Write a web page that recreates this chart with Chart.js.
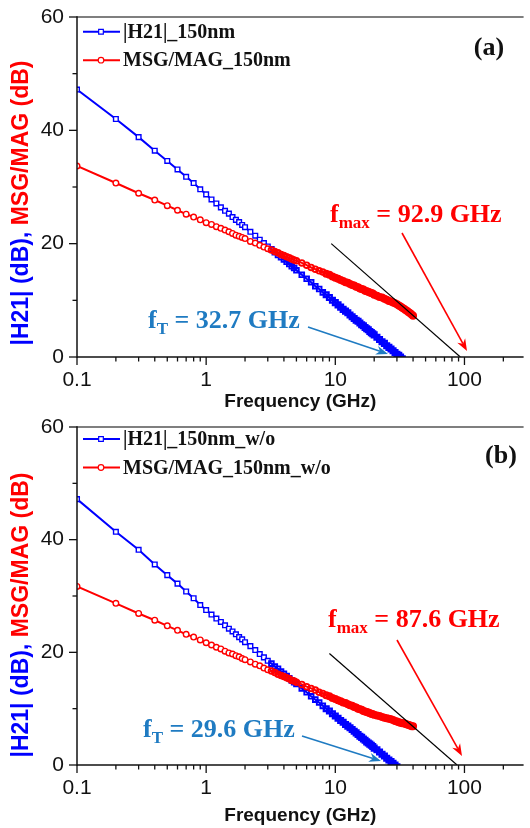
<!DOCTYPE html>
<html>
<head>
<meta charset="utf-8">
<script src="https://cdn.jsdelivr.net/npm/chart.js@4.4.1/dist/chart.umd.min.js"></script>
<style>
    body { margin: 0; background: #fff; }
    canvas { display: block; }
</style>
</head>
<body>
<canvas id="chart-a" width="530" height="414"></canvas>
<canvas id="chart-b" width="530" height="414"></canvas>
<script>
// measured sweep points (GHz)
const freqGHz = [0.1, 0.2, 0.3, 0.4, 0.5, 0.6, 0.7, 0.8, 0.9, 1.0,
    1.1, 1.2, 1.3, 1.4, 1.5, 1.6, 1.7, 1.8, 1.9, 2.0,
    2.2, 2.4, 2.6, 2.8, 3.0, 3.2, 3.4, 3.6, 3.8, 4.0, 4.2, 4.4, 4.6, 4.8, 5.0,
    5.5, 6.0, 6.5, 7.0, 7.5, 8.0, 8.5, 9.0, 9.5, 10, 10.5, 11, 11.5, 12, 12.5,
    13, 13.5, 14, 14.5, 15, 15.5, 16, 16.5, 17, 17.5, 18, 18.5, 19, 19.5, 20,
    21, 22, 23, 24, 25, 26, 27, 28, 29, 30, 31, 32, 33, 34, 35, 36, 37, 38, 39, 40];

// (a) 150nm
const h21A = [47.2, 42.0, 38.8, 36.4, 34.6, 33.1, 31.8, 30.7, 29.6, 28.7,
    27.8, 27.1, 26.4, 25.8, 25.3, 24.7, 24.2, 23.8, 23.3, 22.9,
    22.1, 21.4, 20.7, 20.1, 19.5, 19.0, 18.5, 18.0, 17.6, 17.2, 16.8, 16.4, 16.0, 15.7, 15.3,
    14.5, 13.8, 13.2, 12.5, 12.0, 11.4, 11.0, 10.5, 10.0, 9.6, 9.2, 8.8, 8.4, 8.1, 7.8,
    7.4, 7.1, 6.8, 6.5, 6.3, 6.0, 5.7, 5.5, 5.2, 5.0, 4.8, 4.5, 4.3, 4.1, 3.9,
    3.5, 3.1, 2.7, 2.4, 2.0, 1.7, 1.4, 1.1, 0.8, 0.5, 0.3, 0.0, -0.3];
const msgA = [33.7, 30.7, 28.9, 27.7, 26.7, 25.9, 25.2, 24.7, 24.2, 23.7,
    23.4, 23.0, 22.7, 22.4, 22.1, 21.8, 21.5, 21.3, 21.1, 20.9,
    20.4, 20.1, 19.7, 19.4, 19.1, 18.9, 18.6, 18.4, 18.1, 17.9, 17.7, 17.5, 17.3, 17.1, 17.0,
    16.6, 16.2, 15.8, 15.5, 15.2, 15.0, 14.7, 14.5, 14.2, 14.0, 13.8, 13.6, 13.4, 13.2, 13.1,
    12.9, 12.7, 12.6, 12.4, 12.3, 12.1, 12.0, 11.9, 11.7, 11.6, 11.5, 11.4, 11.3, 11.2, 11.0,
    10.8, 10.6, 10.5, 10.3, 10.1, 9.9, 9.8, 9.6, 9.5, 9.3, 9.1, 8.9, 8.7, 8.5, 8.3, 8.1, 7.9, 7.7, 7.5, 7.3];
const fTA = 32.7;
const fmaxA = 92.9;
const slopeFreqA = [9.3, fmaxA];
const slopeGainA = [20.0, 0];

// (b) 150nm w/o
const h21B = [47.2, 41.4, 38.2, 35.6, 33.7, 32.2, 30.8, 29.6, 28.4, 27.5,
    26.7, 26.0, 25.4, 24.8, 24.2, 23.7, 23.2, 22.7, 22.3, 21.8,
    21.1, 20.4, 19.7, 19.1, 18.5, 18.0, 17.5, 17.1, 16.6, 16.2, 15.8, 15.4, 15.0, 14.7, 14.4,
    13.6, 12.9, 12.2, 11.6, 11.1, 10.5, 10.0, 9.6, 9.1, 8.7, 8.3, 7.9, 7.6, 7.2, 6.9,
    6.6, 6.3, 6.0, 5.7, 5.4, 5.1, 4.9, 4.6, 4.4, 4.1, 3.9, 3.7, 3.5, 3.3, 3.0,
    2.7, 2.3, 1.9, 1.6, 1.2, 0.9, 0.6, 0.3, 0.0, -0.3];
const msgB = [31.7, 28.7, 26.9, 25.7, 24.7, 23.9, 23.2, 22.7, 22.2, 21.7,
    21.3, 20.9, 20.6, 20.2, 19.9, 19.7, 19.4, 19.2, 18.9, 18.7,
    18.3, 17.9, 17.6, 17.2, 16.9, 16.7, 16.4, 16.1, 15.9, 15.7, 15.5, 15.3, 15.0, 14.9, 14.7,
    14.3, 13.9, 13.6, 13.3, 12.9, 12.7, 12.4, 12.2, 11.9, 11.7, 11.5, 11.3, 11.1, 11.0, 10.8,
    10.6, 10.5, 10.3, 10.2, 10.0, 9.9, 9.8, 9.6, 9.5, 9.4, 9.3, 9.2, 9.1, 9.0, 8.9,
    8.8, 8.7, 8.5, 8.4, 8.3, 8.2, 8.1, 8.0, 7.8, 7.7, 7.6, 7.5, 7.4, 7.4, 7.3, 7.2, 7.1, 7.0, 6.9, 6.9];
const fTB = 29.6;
const fmaxB = 87.6;
const slopeFreqB = [9.0, fmaxB];
const slopeGainB = [19.8, 0];

const xTicks = [0.1, 1, 10, 100];
const yTicks = [0, 20, 40, 60];
const yMinorTicks = [10, 30, 50];

const blue = "#0000ff";
const red = "#ff0000";
const tBlue = "#1f7bc2";
const serif = '"Liberation Serif", "Times New Roman", serif';
const sans = '"Liberation Sans", Arial, sans-serif';

function points(xs, ys) {
    return ys.map((y, i) => ({ x: xs[i], y: y }));
}

function line(ctx, x1, y1, x2, y2) {
    ctx.beginPath();
    ctx.moveTo(x1, y1);
    ctx.lineTo(x2, y2);
    ctx.stroke();
}

function arrow(ctx, x1, y1, x2, y2, color) {
    const a = Math.atan2(y2 - y1, x2 - x1);
    const c = Math.cos(a), s = Math.sin(a);
    const hl = 12, hw = 4.5;
    ctx.strokeStyle = color;
    ctx.fillStyle = color;
    ctx.lineWidth = 1.6;
    line(ctx, x1, y1, x2 - hl * 0.7 * c, y2 - hl * 0.7 * s);
    ctx.beginPath();
    ctx.moveTo(x2, y2);
    ctx.lineTo(x2 - hl * c + hw * s, y2 - hl * s - hw * c);
    ctx.lineTo(x2 - hl * 0.7 * c, y2 - hl * 0.7 * s);
    ctx.lineTo(x2 - hl * c - hw * s, y2 - hl * s + hw * c);
    ctx.closePath();
    ctx.fill();
}

// f with a subscript, then the rest of the label
function subLabel(ctx, x, y, sub, rest, color) {
    const big = "bold 26px " + serif;
    ctx.fillStyle = color;
    ctx.textBaseline = "alphabetic";
    ctx.textAlign = "left";
    ctx.font = big;
    ctx.fillText("f", x, y);
    x += ctx.measureText("f").width;
    ctx.font = "bold 17px " + serif;
    ctx.fillText(sub, x, y + 6);
    x += ctx.measureText(sub).width;
    ctx.font = big;
    ctx.fillText(rest, x, y);
}

// hollow markers at low frequency; above that the sweep is so dense
// the symbols merge into a solid band
function markerFill(c) {
    return c.raw && c.raw.x > 3 ? "rgba(255,255,255,0)" : "#fff";
}
function markerEdge(c) {
    if (!c.raw) return 1.4;
    return c.raw.x > 8 ? 2.4 : c.raw.x > 3 ? 1.9 : 1.4;
}

// axes frame, outward ticks, legend, y title and notes
const decor = {
    id: "decor",
    afterDraw(chart, args, o) {
        const ctx = chart.ctx;
        const { left, right, top, bottom } = chart.chartArea;
        const xs = chart.scales.x;
        const ys = chart.scales.y;
        ctx.save();

        ctx.lineWidth = 1.5;
        ctx.strokeStyle = "#555";
        line(ctx, left, top, right, top);
        ctx.strokeStyle = "#111";
        line(ctx, left, top - 0.75, left, bottom + 0.75);
        line(ctx, left, bottom, right, bottom);

        ctx.lineWidth = 1.3;
        for (let d = -1; d <= 2; d++) {
            for (let m = 1; m <= 9; m++) {
                const v = m * Math.pow(10, d);
                if (v > xs.max) break;
                const px = xs.getPixelForValue(v);
                line(ctx, px, bottom, px, bottom + (m === 1 ? 8 : 4.5));
            }
        }
        yTicks.forEach((v) => {
            const py = ys.getPixelForValue(v);
            line(ctx, left, py, left - 8, py);
        });
        yMinorTicks.forEach((v) => {
            const py = ys.getPixelForValue(v);
            line(ctx, left, py, left - 4.5, py);
        });

        // legend: line sample with marker in the middle
        chart.data.datasets.forEach((ds) => {
            if (ds.legendRow === undefined) return;
            const ly = top + o.legendTop + ds.legendRow * 28.5;
            ctx.strokeStyle = ds.borderColor;
            ctx.lineWidth = 2;
            line(ctx, 83, ly, 120, ly);
            ctx.fillStyle = "#fff";
            ctx.lineWidth = 1.2;
            Chart.helpers.drawPoint(ctx, {
                pointStyle: ds.pointStyle,
                radius: ds.pointRadius,
                borderWidth: 1.2,
                rotation: 0,
            }, 101, ly);
            ctx.fillStyle = "#111";
            ctx.font = "bold 20px " + serif;
            ctx.textAlign = "left";
            ctx.textBaseline = "middle";
            ctx.fillText(ds.label, 123, ly + 1);
        });

        ctx.font = "bold 26px " + serif;
        ctx.fillStyle = "#111";
        ctx.textAlign = "center";
        ctx.textBaseline = "middle";
        ctx.fillText(o.tag, o.tagX, top + o.tagY);

        // two-colour rotated y title
        ctx.save();
        ctx.translate(22, top + o.titleMid);
        ctx.rotate(-Math.PI / 2);
        ctx.font = "bold 23px " + sans;
        ctx.textBaseline = "middle";
        ctx.textAlign = "left";
        const p1 = "|H21| (dB), ";
        const p2 = "MSG/MAG (dB)";
        const w1 = ctx.measureText(p1).width;
        const w2 = ctx.measureText(p2).width;
        ctx.fillStyle = blue;
        ctx.fillText(p1, -(w1 + w2) / 2, 0);
        ctx.fillStyle = red;
        ctx.fillText(p2, -(w1 + w2) / 2 + w1, 0);
        ctx.restore();

        subLabel(ctx, o.fmaxX, o.fmaxY, "max", " = " + o.fmax.toFixed(1) + " GHz", red);
        subLabel(ctx, o.fTX, o.fTY, "T", " = " + o.fT.toFixed(1) + " GHz", tBlue);
        arrow(ctx, ...o.fmaxArrow, red);
        arrow(ctx, ...o.fTArrow, tBlue);

        ctx.restore();
    },
};

function makeChart(id, names, h21, msg, slopeFreq, slopeGain, cfg) {
    return new Chart(document.getElementById(id), {
        type: "line",
        data: {
            datasets: [
                {
                    label: names[0],
                    legendRow: 0,
                    data: points(freqGHz, h21),
                    borderColor: blue,
                    borderWidth: 2,
                    pointStyle: "rect",
                    pointRadius: 3.3,
                    pointBorderWidth: markerEdge,
                    pointBorderColor: blue,
                    pointBackgroundColor: markerFill,
                    tension: 0,
                    order: 1,
                },
                {
                    label: names[1],
                    legendRow: 1,
                    data: points(freqGHz, msg),
                    borderColor: red,
                    borderWidth: 2,
                    pointStyle: "circle",
                    pointRadius: 2.8,
                    pointBorderWidth: markerEdge,
                    pointBorderColor: red,
                    pointBackgroundColor: markerFill,
                    tension: 0,
                    order: 0,
                },
                {
                    label: "-20 dB/dec",
                    data: points(slopeFreq, slopeGain),
                    borderColor: "#000",
                    borderWidth: 1.2,
                    pointRadius: 0,
                    tension: 0,
                    order: -1,
                },
            ],
        },
        options: {
            responsive: false,
            animation: false,
            events: [],
            layout: { padding: { top: cfg.padTop, left: 0, right: 0, bottom: 0 } },
            scales: {
                x: {
                    type: "logarithmic",
                    min: 0.1,
                    max: 287,
                    grid: { display: false, drawTicks: false },
                    border: { display: false },
                    afterBuildTicks: (s) => {
                        s.ticks = xTicks.map((v) => ({ value: v }));
                    },
                    afterFit: (s) => {
                        s.height = cfg.xHeight;
                        s.paddingLeft = 0;
                        s.paddingRight = 0;
                    },
                    ticks: {
                        autoSkip: false,
                        maxRotation: 0,
                        padding: 11,
                        color: "#111",
                        font: { family: sans, size: 21 },
                        callback: (v) => String(v),
                    },
                    title: {
                        display: true,
                        text: "Frequency (GHz)",
                        color: "#111",
                        font: { family: sans, size: 19, weight: "bold" },
                        padding: { top: 0, bottom: 1 },
                    },
                },
                y: {
                    min: 0,
                    max: 60,
                    grid: { display: false, drawTicks: false },
                    border: { display: false },
                    afterBuildTicks: (s) => {
                        s.ticks = yTicks.map((v) => ({ value: v }));
                    },
                    afterFit: (s) => {
                        s.width = 77;
                        s.paddingTop = 0;
                        s.paddingBottom = 0;
                    },
                    ticks: {
                        padding: 13,
                        color: "#111",
                        font: { family: sans, size: 21 },
                    },
                },
            },
            plugins: {
                legend: { display: false },
                tooltip: { enabled: false },
                decor: cfg.decor,
            },
        },
        plugins: [decor],
    });
}

makeChart("chart-a", ["|H21|_150nm", "MSG/MAG_150nm"], h21A, msgA, slopeFreqA, slopeGainA, {
    padTop: 17,
    xHeight: 57,
    decor: {
        legendTop: 14.7,
        tag: "(a)",
        tagX: 489,
        tagY: 31,
        titleMid: 186,
        fmax: fmaxA,
        fmaxX: 330,
        fmaxY: 222,
        fT: fTA,
        fTX: 148,
        fTY: 328,
        fmaxArrow: [402, 233, 467, 351],
        fTArrow: [308, 327, 388, 354],
    },
});

makeChart("chart-b", ["|H21|_150nm_w/o", "MSG/MAG_150nm_w/o"], h21B, msgB, slopeFreqB, slopeGainB, {
    padTop: 13,
    xHeight: 63,
    decor: {
        legendTop: 12,
        tag: "(b)",
        tagX: 501,
        tagY: 29,
        titleMid: 188,
        fmax: fmaxB,
        fmaxX: 328,
        fmaxY: 213,
        fT: fTB,
        fTX: 143,
        fTY: 323,
        fmaxArrow: [397, 226, 462, 342],
        fTArrow: [302, 322, 381, 347],
    },
});
</script>
</body>
</html>
